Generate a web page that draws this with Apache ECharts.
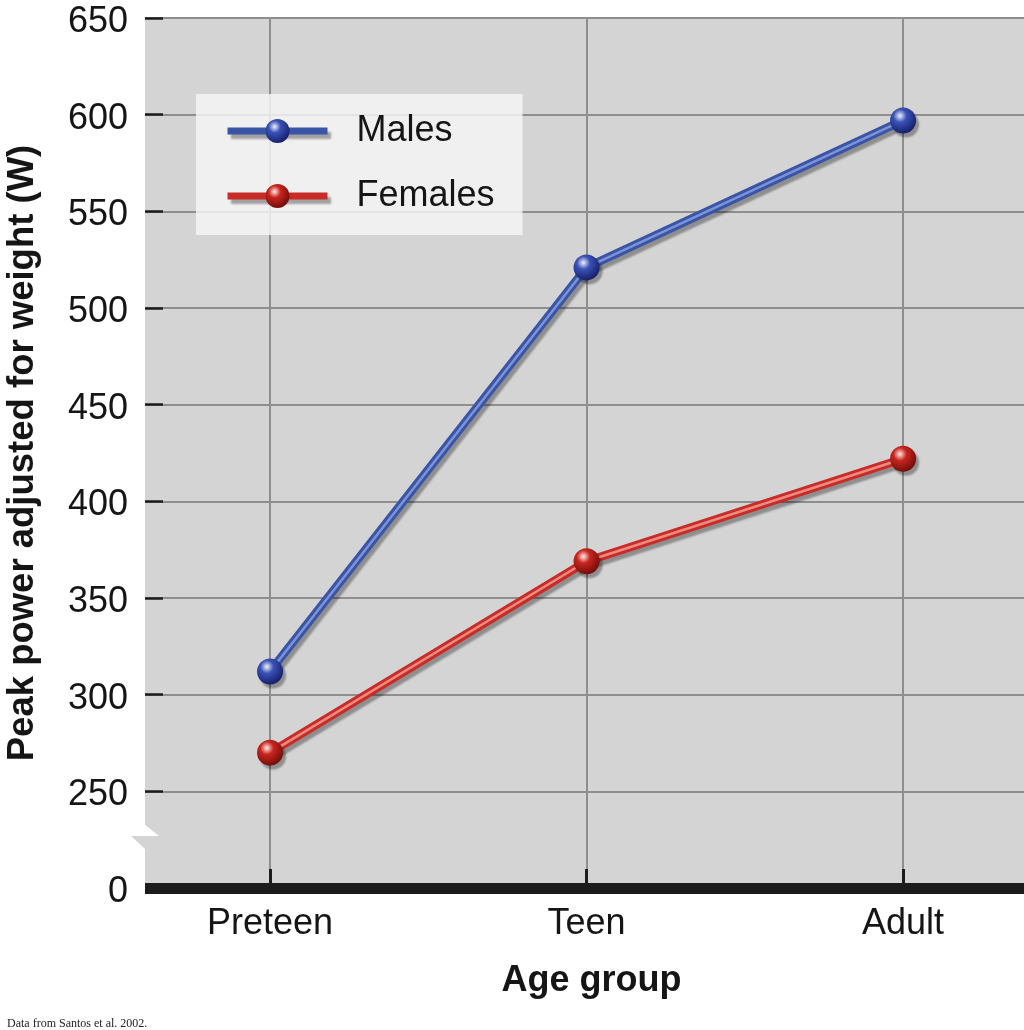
<!DOCTYPE html>
<html>
<head>
<meta charset="utf-8">
<script src="https://cdn.jsdelivr.net/npm/echarts@6/dist/echarts.min.js"></script>
<style>
html,body{margin:0;padding:0;background:#fff;}
#chart{width:1024px;height:1030px;}
</style>
</head>
<body>
<div id="chart"></div>
<script>
// ---- data ----
const categories = ['Preteen', 'Teen', 'Adult'];
const males = [312, 521, 597];
const females = [270, 369, 422];
const seriesNames = ['Males', 'Females'];
const yTickValues = [200, 250, 300, 350, 400, 450, 500, 550, 600, 650];
const yTickLabels = ['0', '250', '300', '350', '400', '450', '500', '550', '600', '650'];
const xTitle = 'Age group';
const yTitle = 'Peak power adjusted for weight (W)';
const note = 'Data from Santos et al. 2002.';

const FONT = '"Liberation Sans", Arial, Helvetica, sans-serif';

function sphere(light, mid, dark) {
  return {
    type: 'radial', x: 0.38, y: 0.32, r: 0.72,
    colorStops: [
      { offset: 0, color: light },
      { offset: 0.35, color: mid },
      { offset: 1, color: dark }
    ]
  };
}

const chart = echarts.init(document.getElementById('chart'), null, { renderer: 'canvas' });

const lineShadow = { shadowColor: 'rgba(0,0,0,0.33)', shadowBlur: 2, shadowOffsetX: 3, shadowOffsetY: 4 };

const styles = [
  { line: '#3b55a6', hi: '#7d93d8', ball: sphere('#eef1ff', '#3a52b6', '#141c66') },
  { line: '#c92b27', hi: '#ec8a80', ball: sphere('#ffeae4', '#c8251f', '#6e0c08') }
];
const values = [males, females];

const series = [];
// base lines (with shadow)
seriesNames.forEach((name, k) => {
  series.push({
    name: name,
    type: 'line',
    data: categories.map((c, i) => [i, values[k][i]]),
    symbol: 'circle', symbolSize: 26, showSymbol: false,
    lineStyle: Object.assign({ color: styles[k].line, width: 8.5 }, lineShadow),
    itemStyle: { color: styles[k].ball },
    z: 2
  });
});
// highlight stripe + spheres
seriesNames.forEach((name, k) => {
  series.push({
    name: name,
    type: 'line',
    data: categories.map((c, i) => [i, values[k][i]]),
    symbol: 'circle', symbolSize: 26, showSymbol: true,
    lineStyle: { color: styles[k].hi, width: 2.5 },
    itemStyle: Object.assign({ color: styles[k].ball }, lineShadow),
    z: 3
  });
});

chart.setOption({
  animation: false,
  backgroundColor: '#ffffff',
  title: {
    text: note,
    left: 2, top: 1013,
    textStyle: { fontFamily: '"Liberation Serif", "Times New Roman", serif', fontSize: 12, fontWeight: 'normal', color: '#222' }
  },
  grid: {
    left: 145, right: 0, top: 18, bottom: 142,
    outerBoundsMode: 'none',
    containLabel: false,
    show: true, backgroundColor: '#d4d4d5', borderWidth: 0
  },
  legend: {
    data: seriesNames,
    orient: 'vertical',
    left: 196, top: 94,
    padding: [19, 28, 21, 28],
    itemWidth: 100, itemHeight: 30, itemGap: 29,
    backgroundColor: 'rgba(246,246,246,0.82)',
    lineStyle: Object.assign({ width: 7 }, lineShadow),
    textStyle: { fontFamily: FONT, fontSize: 36, color: '#151515', padding: [0, 0, 0, 24] }
  },
  xAxis: {
    type: 'value',
    min: -0.395, max: 2.382,
    name: xTitle,
    nameLocation: 'middle',
    nameGap: 75,
    nameTextStyle: { fontFamily: FONT, fontSize: 36, fontWeight: 'bold', color: '#151515', padding: [0, 0, 0, 14] },
    axisLine: { show: true, onZero: false, lineStyle: { color: '#1c1c1c', width: 11, cap: 'butt' } },
    axisTick: { show: true, inside: true, length: 19, customValues: [0, 1, 2], lineStyle: { color: '#1c1c1c', width: 3 } },
    axisLabel: {
      customValues: [0, 1, 2],
      margin: 18,
      fontFamily: FONT, fontSize: 36, color: '#151515',
      formatter: v => categories[Math.round(v)] ?? ''
    },
    splitLine: { show: true, lineStyle: { color: '#8e8e8e', width: 2 } }
  },
  yAxis: {
    type: 'value',
    min: 200, max: 650, interval: 50,
    name: yTitle,
    nameLocation: 'middle',
    nameGap: 104,
    nameTextStyle: { fontFamily: FONT, fontSize: 36.5, fontWeight: 'bold', color: '#151515' },
    axisLine: { show: false, onZero: false },
    axisTick: { show: true, inside: true, length: 18, lineStyle: { color: '#1c1c1c', width: 2.5 } },
    axisLabel: {
      margin: 17,
      fontFamily: FONT, fontSize: 36, color: '#151515',
      formatter: v => { const i = yTickValues.indexOf(v); return i >= 0 ? '{t|' + yTickLabels[i] + '}' : ''; },
      rich: { t: { fontFamily: FONT, fontSize: 36, color: '#151515', padding: [8, 0, 0, 0] } }
    },
    splitLine: { show: true, lineStyle: { color: '#8e8e8e', width: 2 } }
  },
  series: series,
  graphic: [
    { type: 'polygon', shape: { points: [[144, 824], [159, 836], [144, 836]] }, style: { fill: '#ffffff' }, z: 10 },
    { type: 'polygon', shape: { points: [[131, 836], [145, 836], [145, 849]] }, style: { fill: '#d4d4d5' }, z: 10 }
  ]
});
</script>
</body>
</html>
